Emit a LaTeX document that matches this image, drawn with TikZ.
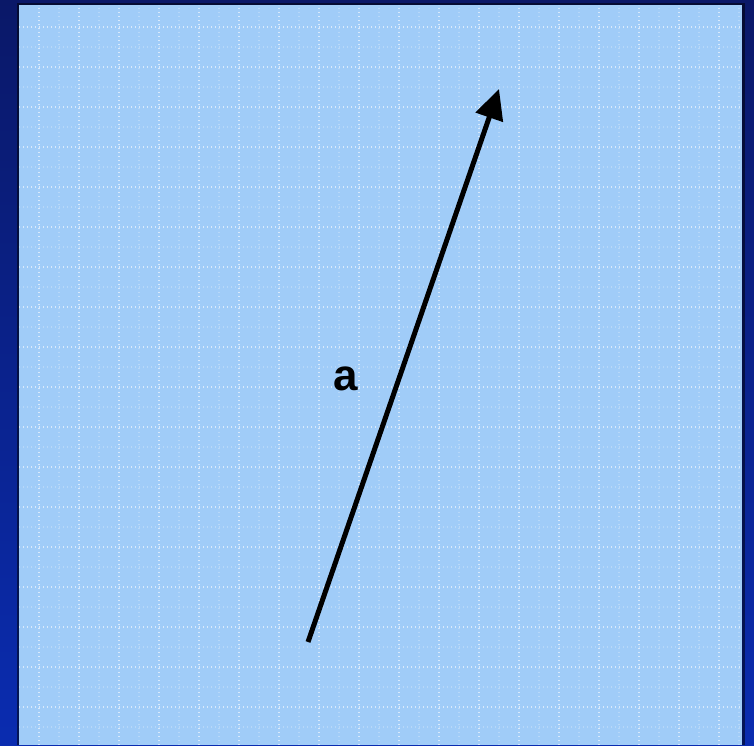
\documentclass[tikz,border=0pt]{standalone}
\usepackage{fontspec}
\setmainfont{Liberation Sans}
\usetikzlibrary{arrows.meta}
\definecolor{navytop}{HTML}{0A1868}
\definecolor{navybot}{HTML}{0A2CB0}
\definecolor{paper}{HTML}{A0CCF8}
\tikzset{
  majorgrid/.style={white, opacity=0.6, line width=1.3pt, dash pattern=on 1.3pt off 2.7pt},
  minorgrid/.style={white, opacity=0.25, line width=1.1pt, dash pattern=on 1.3pt off 2.7pt},
  vec/.style={line width=5pt, -{Triangle[length=30pt,width=28pt]}},
  lbl/.style={font=\fontsize{44}{44}\selectfont\bfseries}
}
\begin{document}
\begin{tikzpicture}[x=1pt,y=1pt]
\useasboundingbox (0,0) rectangle (754,745);
\shade[top color=navytop, bottom color=navybot] (0,0) rectangle (754,745);
\fill[black, opacity=0.5] (17,0) rectangle (745,742);
\fill[paper] (19,0) rectangle (742,740);
\begin{scope}
\clip (19,0) rectangle (742,740);
\foreach \x in {59,99,...,739} \draw[minorgrid] (\x,0) -- (\x,740);
\foreach \y in {47,87,...,745} \draw[minorgrid] (19,745-\y) -- (742,745-\y);
\foreach \x in {39,79,...,739} \draw[majorgrid] (\x,0) -- (\x,740);
\foreach \y in {27,67,...,745} \draw[majorgrid] (19,745-\y) -- (742,745-\y);
\end{scope}
\coordinate (tail) at (308,103);
\coordinate (head) at (499,656);
\draw[vec] (tail) -- (head);
\node[lbl] (a) at (346,366) {a};
\end{tikzpicture}
\end{document}
